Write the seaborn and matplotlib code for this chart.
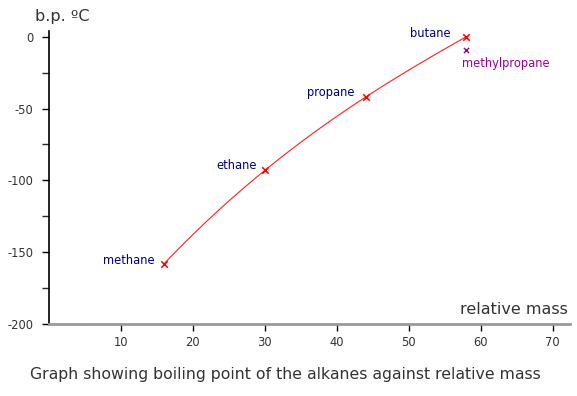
import numpy as np
import pandas as pd
import matplotlib
matplotlib.use("Agg")
import matplotlib.pyplot as plt
import seaborn as sns

# straight-chain alkanes
names = ["methane", "ethane", "propane", "butane"]
mass = [16, 30, 44, 58]
bp = [-158, -93, -42, 0]

# branched isomer
iso_name = "methylpropane"
iso_mass = 58
iso_bp = -9

x_ticks = [10, 20, 30, 40, 50, 60, 70]
y_ticks = [0, -50, -100, -150, -200]

sns.set_style("ticks")
plt.rcParams['font.family'] = ['DejaVu Sans']
plt.rcParams['axes.unicode_minus'] = False

df = pd.DataFrame({"name": names, "mass": mass, "bp": bp})

fig = plt.figure(figsize=(5.77, 3.96), dpi=100)
ax = fig.add_axes([49 / 577, 72 / 396, 521 / 577, 293 / 396])

sns.regplot(data=df, x="mass", y="bp", order=3, ci=None, scatter=False,
            truncate=True, ax=ax, line_kws={"color": "#ff2020", "lw": 0.8})
sns.scatterplot(data=df, x="mass", y="bp", marker="x", color="red", s=22,
                linewidth=1.1, ax=ax, zorder=3)
ax.scatter([iso_mass], [iso_bp], marker="x", color="#990099", s=14, linewidth=1.0, zorder=3)

offsets = {"methane": (-7, 2), "ethane": (-6, 3.5), "propane": (-8, 3.5), "butane": (-11, 2)}
for n, m, b in zip(names, mass, bp):
    ax.annotate(n, (m, b), xytext=offsets[n], textcoords="offset points",
                ha="right", va="center", fontsize=8.3, color="#000080")
ax.annotate(iso_name, (iso_mass, iso_bp), xytext=(-3, -10), textcoords="offset points",
            ha="left", va="center", fontsize=8.3, color="#990099")

ax.set_xlim(0, 72.4)
ax.set_ylim(-200, 4)
ax.set_xticks(x_ticks)
ax.set_xticks([5], minor=True)
ax.set_yticks(y_ticks)
ax.set_yticks([-25, -75, -125, -175], minor=True)
ax.tick_params(axis="both", which="major", labelsize=8.3, labelcolor="#333333",
               length=5, width=1, color="black")
ax.tick_params(axis="y", which="major", pad=6)
ax.tick_params(axis="x", which="minor", length=1, width=1)
ax.tick_params(axis="y", which="minor", length=5, width=1)
ax.set_xlabel("")
ax.set_ylabel("")

ax.spines["top"].set_visible(False)
ax.spines["right"].set_visible(False)
ax.spines["left"].set_color("black")
ax.spines["left"].set_linewidth(1.2)
ax.spines["bottom"].set_color("#999999")
ax.spines["bottom"].set_linewidth(2)

fig.text(35 / 577, 1 - 17 / 396, "b.p. ºC", fontsize=11.5, color="#333333",
         ha="left", va="center")
fig.text(568 / 577, 1 - 310 / 396, "relative mass", fontsize=11.5, color="#333333",
         ha="right", va="center")
fig.text(285 / 577, 1 - 375 / 396,
         "Graph showing boiling point of the alkanes against relative mass",
         fontsize=11.3, color="#333333", ha="center", va="center")

fig.savefig("out.png", dpi=100)
